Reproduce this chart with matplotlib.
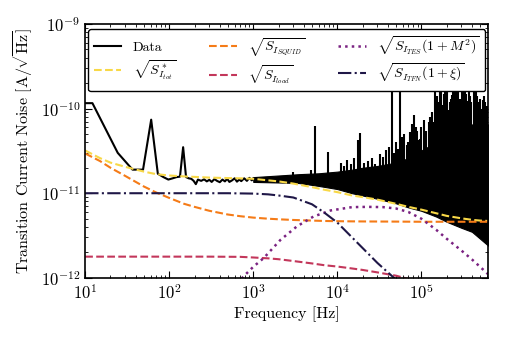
import numpy as np
import matplotlib
matplotlib.use("Agg")
import matplotlib.pyplot as plt

# Computer Modern look, like a LaTeX figure
plt.rcParams["font.family"] = "serif"
plt.rcParams["font.serif"] = ["cmr10"]
plt.rcParams["mathtext.fontset"] = "cm"
plt.rcParams["axes.formatter.use_mathtext"] = True
plt.rcParams["font.size"] = 10

# measured spectrum, low frequency part (FFT bins)
data_f = [10, 12.2, 24.4, 36.6, 48.8, 61.0, 73.2, 85.4, 97.6, 109.8, 122.0,
          134.2, 146.4, 158.6, 170.8, 183.0, 195.2, 207.4, 219.6, 240, 260,
          280, 300, 320, 345, 370, 400, 430, 460, 490, 520, 560, 600, 640,
          680, 720, 780, 840, 900, 960, 1000]
data_S = [1.16e-10, 1.16e-10, 3.0e-11, 1.9e-11, 1.9e-11, 7.4e-11, 1.7e-11,
          1.55e-11, 1.45e-11, 1.5e-11, 1.55e-11, 1.57e-11, 3.5e-11, 1.55e-11,
          1.5e-11, 1.48e-11, 1.4e-11, 1.28e-11, 1.45e-11, 1.4e-11, 1.46e-11,
          1.38e-11, 1.44e-11, 1.36e-11, 1.47e-11, 1.4e-11, 1.35e-11, 1.45e-11,
          1.38e-11, 1.48e-11, 1.36e-11, 1.42e-11, 1.5e-11, 1.37e-11, 1.45e-11,
          1.39e-11, 1.5e-11, 1.4e-11, 1.52e-11, 1.42e-11, 1.5e-11]

# high frequency part: dense band of the spectrum (lower/upper edges)
band_f = [1e3, 2e3, 3.5e3, 6e3, 1e4, 1.5e4, 2e4, 3e4, 5e4, 7e4, 1e5,
          1.5e5, 2e5, 3e5, 4e5, 5e5, 6.25e5]
band_lo = [1.36e-11, 1.34e-11, 1.32e-11, 1.22e-11, 1.12e-11, 1.0e-11,
           9.4e-12, 8.6e-12, 7.6e-12, 6.8e-12, 6.2e-12, 5.3e-12, 4.6e-12,
           3.9e-12, 3.5e-12, 2.9e-12, 2.4e-12]
band_hi = [1.55e-11, 1.62e-11, 1.68e-11, 1.72e-11, 1.8e-11, 1.9e-11,
           2.0e-11, 2.1e-11, 2.3e-11, 2.6e-11, 3.2e-11, 4.0e-11, 5.0e-11,
           6.0e-11, 6.5e-11, 6.5e-11, 6.5e-11]

# narrow lines sticking out of the band
spike_f = [3e3, 4.8e3, 5.5e3, 7.7e3, 1.1e4, 1.2e4, 1.3e4, 1.45e4, 1.6e4,
           1.74e4, 1.87e4, 2.05e4, 2.3e4, 2.6e4, 2.8e4, 3.2e4, 3.5e4, 3.8e4,
           4.1e4, 4.48e4, 4.7e4, 5.0e4, 5.3e4, 5.62e4, 5.9e4, 6.2e4, 6.7e4,
           7.0e4, 7.4e4, 7.8e4, 8.1e4, 8.6e4, 8.9e4, 9.2e4, 9.56e4, 1.0e5,
           1.07e5, 1.15e5, 1.22e5, 1.28e5, 1.35e5, 1.4e5, 1.47e5, 1.55e5,
           1.6e5, 1.68e5, 1.73e5, 1.8e5, 1.87e5, 1.93e5, 2.0e5, 2.11e5,
           2.18e5, 2.25e5, 2.33e5, 2.4e5, 2.5e5, 2.6e5, 2.68e5, 2.76e5,
           2.9e5, 3.05e5, 3.15e5, 3.3e5, 3.4e5, 3.5e5, 3.65e5, 3.8e5, 3.95e5,
           4.2e5, 4.35e5, 4.5e5, 4.65e5, 4.8e5, 5.0e5, 5.2e5, 5.35e5, 5.5e5,
           5.75e5, 6.05e5, 6.2e5]
spike_S = [1.8e-11, 1.9e-11, 6.2e-11, 3.1e-11, 2.3e-11, 2.1e-11, 2.5e-11,
           2.2e-11, 2.6e-11, 4.2e-11, 5.2e-11, 2.3e-11, 2.4e-11, 2.6e-11,
           2.2e-11, 2.9e-11, 2.7e-11, 3.2e-11, 3.5e-11, 1.79e-10, 3.0e-11,
           4.0e-11, 3.3e-11, 1.56e-10, 4.6e-11, 5.0e-11, 3.7e-11, 4.0e-11,
           5.3e-11, 6.5e-11, 8.5e-11, 6.0e-11, 5.5e-11, 4.3e-11, 4.4e-11,
           6.0e-11, 7.4e-11, 5.5e-11, 7.0e-11, 7.9e-11, 9.0e-11, 7.0e-11,
           1.63e-10, 1.4e-10, 1.2e-10, 3e-10, 2.0e-10, 1.1e-10, 1.5e-10,
           3e-10, 2.2e-10, 9.5e-11, 1.2e-10, 1.3e-10, 1.45e-10, 1.63e-10,
           1.8e-10, 1.1e-10, 2.2e-10, 3e-10, 1.3e-10, 3e-10, 2.5e-10, 1.6e-10,
           1.5e-10, 1.24e-10, 2.2e-10, 1.4e-10, 1.2e-10, 3e-10, 2.3e-10,
           1.6e-10, 1.4e-10, 1.19e-10, 1.3e-10, 1.0e-10, 1.25e-10, 1.42e-10,
           1.2e-10, 1.08e-10, 9.0e-11]

# noise model components
model_f = [10, 15, 20, 30, 50, 70, 100, 150, 200, 300, 500, 700, 1e3, 1.5e3,
           2e3, 3e3, 5e3, 7e3, 1e4, 1.5e4, 2e4, 3e4, 5e4, 7e4, 1e5, 1.5e5,
           2e5, 3e5, 4e5, 5e5, 6.25e5]
tot_S = [3.2e-11, 2.6e-11, 2.3e-11, 2.05e-11, 1.8e-11, 1.68e-11, 1.62e-11,
         1.58e-11, 1.56e-11, 1.53e-11, 1.51e-11, 1.5e-11, 1.48e-11, 1.42e-11,
         1.38e-11, 1.3e-11, 1.18e-11, 1.1e-11, 1.03e-11, 9.4e-12, 9.0e-12,
         8.4e-12, 7.5e-12, 6.9e-12, 6.4e-12, 5.8e-12, 5.4e-12, 5.05e-12,
         4.85e-12, 4.75e-12, 4.7e-12]
squid_S = [2.95e-11, 2.4e-11, 2.0e-11, 1.6e-11, 1.2e-11, 1.02e-11, 8.8e-12,
           7.5e-12, 6.9e-12, 6.2e-12, 5.6e-12, 5.35e-12, 5.15e-12, 5.0e-12,
           4.92e-12, 4.83e-12, 4.75e-12, 4.7e-12, 4.67e-12, 4.65e-12,
           4.64e-12, 4.63e-12, 4.62e-12, 4.61e-12, 4.6e-12, 4.6e-12, 4.6e-12,
           4.6e-12, 4.6e-12, 4.6e-12, 4.6e-12]

load_f = [10, 100, 300, 700, 1e3, 1.5e3, 2e3, 3e3, 5e3, 7e3, 1e4, 1.5e4,
          2e4, 3e4, 5e4, 7e4]
load_S = [1.78e-12, 1.78e-12, 1.78e-12, 1.77e-12, 1.74e-12, 1.7e-12,
          1.66e-12, 1.58e-12, 1.48e-12, 1.41e-12, 1.36e-12, 1.29e-12,
          1.24e-12, 1.16e-12, 1.06e-12, 0.97e-12]

tes_f = [650, 760, 1e3, 1.33e3, 2.1e3, 3.3e3, 5.2e3, 8.3e3, 1.5e4, 2.3e4,
         3.5e4, 5e4, 7e4, 1e5, 1.5e5, 2e5, 3e5, 4e5, 5e5, 6.25e5]
tes_S = [0.85e-12, 1.03e-12, 1.35e-12, 1.71e-12, 2.8e-12, 4.05e-12, 5.3e-12,
         6.25e-12, 6.85e-12, 6.9e-12, 6.85e-12, 6.6e-12, 6.0e-12, 5.0e-12,
         3.7e-12, 2.9e-12, 2.1e-12, 1.65e-12, 1.35e-12, 1.1e-12]

tfn_f = [10, 100, 500, 1e3, 1.5e3, 2e3, 3e3, 5e3, 7e3, 1e4, 1.5e4, 2e4,
         3e4, 5e4]
tfn_S = [1e-11, 1e-11, 1e-11, 9.9e-12, 9.7e-12, 9.4e-12, 8.9e-12, 7.4e-12,
         5.9e-12, 4.5e-12, 3.0e-12, 2.25e-12, 1.5e-12, 0.95e-12]

fig, ax = plt.subplots(figsize=(5.07, 3.38), dpi=100)
fig.subplots_adjust(left=0.168, right=0.963, bottom=0.178, top=0.929)

# data
ax.plot(data_f, data_S, color="k", lw=1.5, label="Data")
ax.fill_between(band_f, band_lo, band_hi, color="k", lw=0.8)
ax.vlines(spike_f, 1.3e-11, spike_S, color="k", lw=1.5)

# models
ax.plot(model_f, tot_S, color="#f8d847", ls="--", lw=1.5,
        label=r"$\sqrt{S^*_{I_{tot}}}$")
ax.plot(model_f, squid_S, color="#f57b17", ls="--", lw=1.5,
        label=r"$\sqrt{S_{I_{SQUID}}}$")
ax.plot(load_f, load_S, color="#c3375b", ls="--", lw=1.5,
        label=r"$\sqrt{S_{I_{load}}}$")
ax.plot(tes_f, tes_S, color="#7b2382", ls=":", lw=1.8,
        label=r"$\sqrt{S_{I_{TES}}(1+M^2)}$")
ax.plot(tfn_f, tfn_S, color="#1f1747", ls="-.", lw=1.5,
        label=r"$\sqrt{S_{I_{TFN}}(1+\xi)}$")

ax.set_xscale("log")
ax.set_yscale("log")
ax.set_xlim(10, 6.25e5)
ax.set_ylim(1e-12, 1e-9)
ax.set_xlabel("Frequency [Hz]", fontsize=11.5, labelpad=3)
ax.set_ylabel(r"Transition Current Noise [A/$\sqrt{\rm Hz}$]", fontsize=11.5)
ax.tick_params(which="both", direction="in", top=True, right=True)
ax.tick_params(which="major", length=5, labelsize=12)
ax.tick_params(which="minor", length=2.5)
for s in ax.spines.values():
    s.set_linewidth(1.2)

leg = ax.legend(loc="upper center", ncol=3, framealpha=1, edgecolor="k",
                fancybox=True, fontsize=10, columnspacing=2.4,
                labelspacing=0.3, borderaxespad=0.35)
leg.get_frame().set_linewidth(1.0)
leg.set_zorder(10)

fig.savefig("out.png", dpi=100)
